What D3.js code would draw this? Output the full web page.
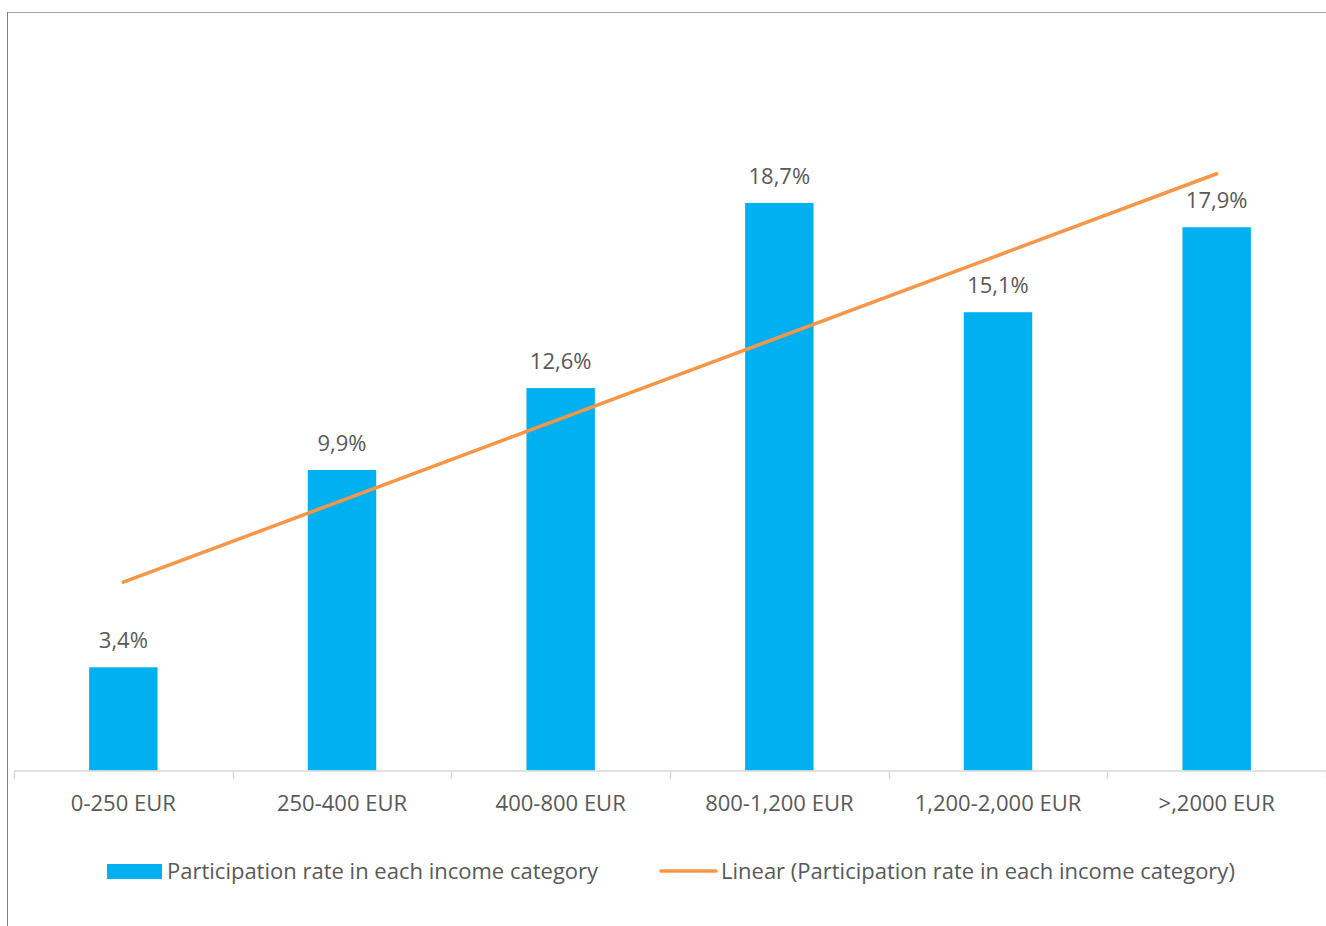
<!DOCTYPE html>
<html><head><meta charset="utf-8">
<script src="https://cdn.jsdelivr.net/npm/d3@7"></script>
<style>
html,body{margin:0;padding:0;background:#fff;}
svg{display:block;}
text{font-family:"Open Sans",sans-serif;}
</style></head>
<body>
<svg id="chart" width="1326" height="926"></svg>
<script>
const categories = ["0-250 EUR","250-400 EUR","400-800 EUR","800-1,200 EUR","1,200-2,000 EUR",">,2000 EUR"];
const values = [3.4, 9.9, 12.6, 18.7, 15.1, 17.9];
const valueLabels = ["3,4%","9,9%","12,6%","18,7%","15,1%","17,9%"];
const seriesName = "Participation rate in each income category";
const trendName = "Linear (Participation rate in each income category)";

const svg = d3.select("#chart");
const W = 1326, H = 926;
const barColor = "#00b0f0", lineColor = "#f79646", textColor = "#595959";
const FS = 22;

// frame
svg.append("line").attr("x1",7.5).attr("x2",W).attr("y1",12.5).attr("y2",12.5).attr("stroke","#a6a6a6").attr("stroke-width",1);
svg.append("line").attr("x1",7.5).attr("x2",7.5).attr("y1",12).attr("y2",H).attr("stroke","#7f7f7f").attr("stroke-width",1);

const x = d3.scaleBand().domain(categories).range([14, 1326]).paddingInner(0.687).paddingOuter(0.3435);
const y = d3.scaleLinear().domain([0, 20]).range([770.5, 163.5]);

// bars
svg.append("g").selectAll("rect").data(values).join("rect")
  .attr("x",(d,i)=>x(categories[i]))
  .attr("y",d=>y(d))
  .attr("width",x.bandwidth())
  .attr("height",d=>y(0)-y(d))
  .attr("fill",barColor);

// axis
const step = x.step();
const axis = svg.append("g");
axis.append("line").attr("x1",14).attr("x2",1326).attr("y1",771).attr("y2",771).attr("stroke","#d9d9d9").attr("stroke-width",1.5);
const tickXs = d3.range(categories.length+1).map(i=>14 + i*step);
axis.selectAll("line.tick").data(tickXs).join("line").attr("class","tick")
  .attr("x1",d=>Math.round(d)+0.5).attr("x2",d=>Math.round(d)+0.5).attr("y1",771).attr("y2",779)
  .attr("stroke","#d9d9d9").attr("stroke-width",1.5);
axis.selectAll("text").data(categories).join("text")
  .attr("x",d=>x(d)+x.bandwidth()/2).attr("y",811)
  .attr("text-anchor","middle").attr("font-size",FS).attr("fill",textColor)
  .text(d=>d);

// data labels
svg.append("g").selectAll("text").data(values).join("text")
  .attr("x",(d,i)=>x(categories[i])+x.bandwidth()/2)
  .attr("y",d=>y(d)-19)
  .attr("text-anchor","middle").attr("font-size",FS).attr("fill",textColor)
  .text((d,i)=>valueLabels[i]);

// linear trendline (least squares on category index)
const n = values.length;
const xs = d3.range(1, n+1);
const mx = d3.mean(xs), my = d3.mean(values);
const slope = d3.sum(xs.map((v,i)=>(v-mx)*(values[i]-my))) / d3.sum(xs.map(v=>(v-mx)*(v-mx)));
const icpt = my - slope*mx;
const trend = [1, n].map(k=>({cat:categories[k-1], v: icpt + slope*k}));
svg.append("path").datum(trend)
  .attr("d", d3.line().x(d=>x(d.cat)+x.bandwidth()/2).y(d=>y(d.v)))
  .attr("fill","none").attr("stroke",lineColor).attr("stroke-width",3.5).attr("stroke-linecap","round");

// legend
const lg = svg.append("g");
lg.append("rect").attr("x",107).attr("y",864).attr("width",55).attr("height",15).attr("fill",barColor);
lg.append("text").attr("x",167).attr("y",879).attr("font-size",FS).attr("fill",textColor).text(seriesName);
lg.append("line").attr("x1",661).attr("x2",716).attr("y1",871).attr("y2",871).attr("stroke",lineColor).attr("stroke-width",3.5).attr("stroke-linecap","round");
lg.append("text").attr("x",721).attr("y",879).attr("font-size",FS).attr("fill",textColor).text(trendName);
</script>
</body></html>
